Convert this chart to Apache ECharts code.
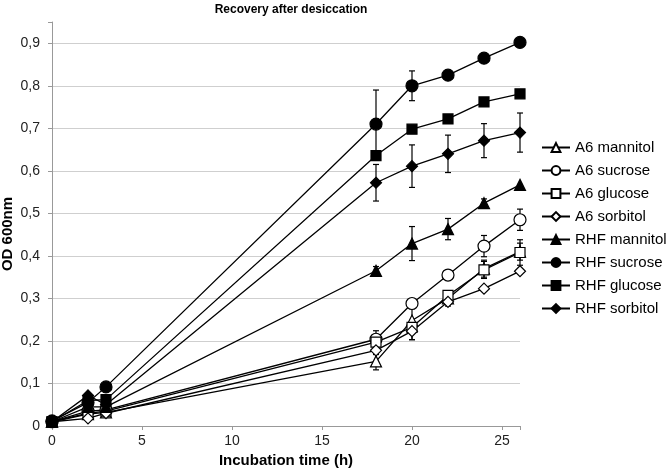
<!DOCTYPE html>
<html>
<head>
<meta charset="utf-8">
<script src="https://cdn.jsdelivr.net/npm/echarts@6/dist/echarts.min.js"></script>
<style>
  html, body { margin: 0; padding: 0; background: #fff; }
  #chart { width: 666px; height: 471px; }
</style>
</head>
<body>
<div id="chart"></div>
<script>
const times = [0, 2, 3, 18, 20, 22, 24, 26];

const seriesNames = ['A6 mannitol', 'A6 sucrose', 'A6 glucose', 'A6 sorbitol',
    'RHF mannitol', 'RHF sucrose', 'RHF glucose', 'RHF sorbitol'];

const a6Mannitol = [0.010, 0.028, 0.032, 0.152, 0.248, 0.300, 0.370, 0.410];
const a6Sucrose = [0.010, 0.035, 0.038, 0.204, 0.288, 0.355, 0.423, 0.485];
const a6Glucose = [0.010, 0.030, 0.035, 0.197, 0.232, 0.307, 0.367, 0.408];
const a6Sorbitol = [0.010, 0.018, 0.030, 0.178, 0.223, 0.292, 0.323, 0.364];
const rhfMannitol = [0.010, 0.045, 0.045, 0.365, 0.429, 0.463, 0.524, 0.567];
const rhfSucrose = [0.012, 0.055, 0.092, 0.710, 0.800, 0.825, 0.865, 0.902];
const rhfGlucose = [0.010, 0.060, 0.062, 0.636, 0.698, 0.722, 0.762, 0.781];
const rhfSorbitol = [0.010, 0.072, 0.050, 0.572, 0.611, 0.640, 0.671, 0.690];

// half widths of the error bars
const a6MannitolErr = [0, 0, 0, 0.02, 0.045, 0.01, 0.02, 0.02];
const a6SucroseErr = [0, 0, 0, 0.02, 0, 0, 0.025, 0.025];
const a6GlucoseErr = [0, 0, 0, 0.01, 0, 0.01, 0.02, 0.03];
const a6SorbitolErr = [0, 0, 0, 0.01, 0.02, 0.01, 0, 0];
const rhfMannitolErr = [0, 0, 0, 0.01, 0.04, 0.025, 0.01, 0];
const rhfSucroseErr = [0, 0, 0, 0.08, 0.035, 0, 0, 0];
const rhfGlucoseErr = [0, 0, 0, 0, 0, 0, 0, 0];
const rhfSorbitolErr = [0, 0, 0, 0.043, 0.05, 0.044, 0.04, 0.046];

const allValues = [a6Mannitol, a6Sucrose, a6Glucose, a6Sorbitol,
    rhfMannitol, rhfSucrose, rhfGlucose, rhfSorbitol];
const allErrors = [a6MannitolErr, a6SucroseErr, a6GlucoseErr, a6SorbitolErr,
    rhfMannitolErr, rhfSucroseErr, rhfGlucoseErr, rhfSorbitolErr];

const symbols = ['triangle', 'circle', 'rect', 'diamond', 'triangle', 'circle', 'rect', 'diamond'];
const symbolSizes = [11, 12, 10, 11, 11, 12, 10, 11];

const font = 'Liberation Sans, Arial, sans-serif';
const myChart = echarts.init(document.getElementById('chart'));

function errorRender(params, api) {
    const x = api.value(0);
    const lo = api.coord([x, api.value(1)]);
    const hi = api.coord([x, api.value(2)]);
    const cap = 3;
    const style = { stroke: '#000', lineWidth: 1.2 };
    return {
        type: 'group',
        children: [
            { type: 'line', shape: { x1: lo[0], y1: lo[1], x2: hi[0], y2: hi[1] }, style: style },
            { type: 'line', shape: { x1: lo[0] - cap, y1: lo[1], x2: lo[0] + cap, y2: lo[1] }, style: style },
            { type: 'line', shape: { x1: hi[0] - cap, y1: hi[1], x2: hi[0] + cap, y2: hi[1] }, style: style }
        ]
    };
}

const series = [];
allValues.forEach((vals, i) => {
    const errData = [];
    times.forEach((t, j) => {
        if (allErrors[i][j] > 0) {
            errData.push([t, vals[j] - allErrors[i][j], vals[j] + allErrors[i][j]]);
        }
    });
    series.push({
        type: 'custom',
        name: seriesNames[i] + ' err',
        renderItem: errorRender,
        data: errData,
        z: 1,
        silent: true
    });
});
allValues.forEach((vals, i) => {
    const filled = i >= 4;
    series.push({
        type: 'line',
        name: seriesNames[i],
        data: times.map((t, j) => [t, vals[j]]),
        smooth: false,
        symbol: symbols[i],
        symbolSize: symbolSizes[i],
        showAllSymbol: true,
        lineStyle: { color: '#000', width: 1.3 },
        itemStyle: {
            color: filled ? '#000' : '#fff',
            borderColor: '#000',
            borderWidth: 1.2
        },
        z: 3
    });
});

// last grid line (the 0.95 axis end) stays hidden
const gridColors = ['#cfcfcf', '#cfcfcf', '#cfcfcf', '#cfcfcf', '#cfcfcf',
    '#cfcfcf', '#cfcfcf', '#cfcfcf', '#cfcfcf', '#cfcfcf', 'rgba(0,0,0,0)'];

const option = {
    animation: false,
    backgroundColor: '#fff',
    title: {
        text: 'Recovery after desiccation',
        left: 286,
        textAlign: 'center',
        top: -1,
        textStyle: { fontFamily: font, fontSize: 12, fontWeight: 'bold', color: '#000' }
    },
    legend: {
        data: seriesNames,
        orient: 'vertical',
        left: 536,
        top: 135,
        itemGap: 8,
        itemWidth: 28,
        itemHeight: 11,
        textStyle: { fontFamily: font, fontSize: 15, color: '#000' }
    },
    grid: { left: 52, right: 146, top: 22, bottom: 45, outerBoundsMode: 'none', containLabel: false },
    xAxis: {
        type: 'value',
        min: 0,
        max: 26,
        interval: 5,
        name: 'Incubation time (h)',
        nameLocation: 'middle',
        nameGap: 27,
        nameMoveOverlap: false,
        nameTextStyle: { fontFamily: font, fontSize: 15, fontWeight: 'bold', color: '#000' },
        axisLine: { lineStyle: { color: '#999' } },
        axisTick: { show: true, length: 4, lineStyle: { color: '#999' } },
        axisLabel: {
            fontFamily: font, fontSize: 14, color: '#222', margin: 8,
            formatter: v => (v % 5 === 0 ? String(v) : '')
        },
        splitLine: { show: false }
    },
    yAxis: {
        type: 'value',
        min: 0,
        max: 0.95,
        interval: 0.1,
        name: 'OD 600nm',
        nameLocation: 'middle',
        nameGap: 37,
        nameMoveOverlap: false,
        nameTextStyle: { fontFamily: font, fontSize: 15, fontWeight: 'bold', color: '#000', padding: [0, 20, 0, 0] },
        axisLine: { show: true, lineStyle: { color: '#999' } },
        axisTick: { show: true, length: 4, lineStyle: { color: '#999' } },
        axisLabel: {
            fontFamily: font, fontSize: 14, color: '#222', margin: 12,
            formatter: v => {
                const r = Math.round(v * 10) / 10;
                if (Math.abs(r - v) > 1e-6) return '';
                return r === 0 ? '0' : r.toFixed(1).replace('.', ',');
            }
        },
        splitLine: { lineStyle: { color: gridColors } }
    },
    series: series
};

myChart.setOption(option);
</script>
</body>
</html>
